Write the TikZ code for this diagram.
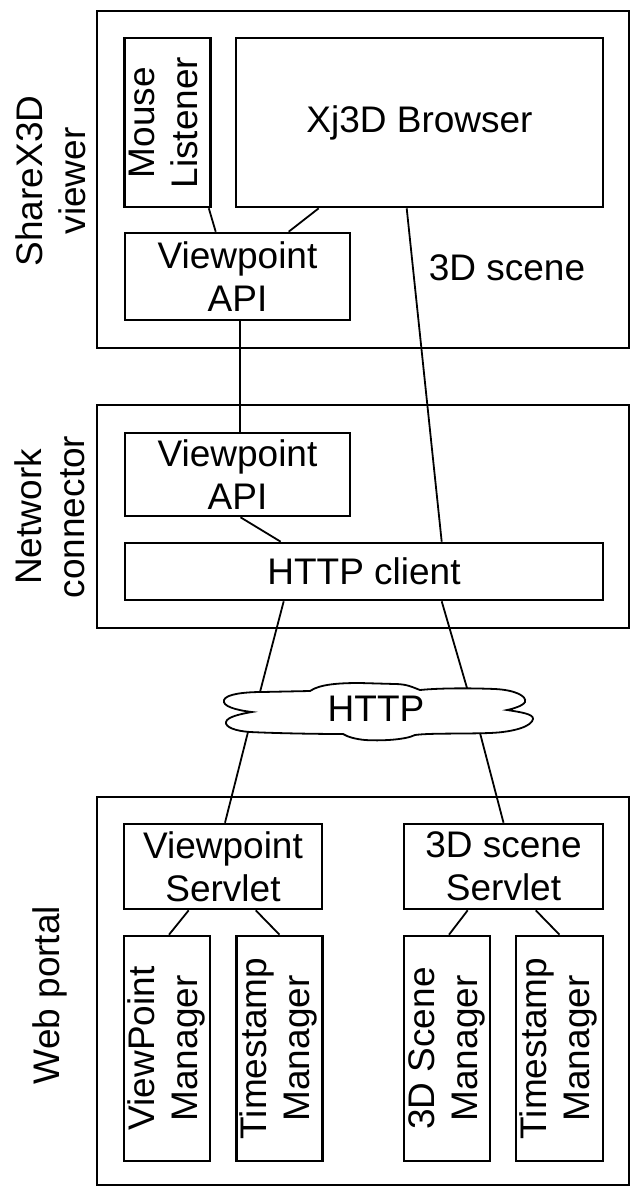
\documentclass[tikz,border=0pt]{standalone}
\usepackage{fontspec}
\setmainfont{Liberation Sans}
\usepackage{tikz}
\usetikzlibrary{shapes,positioning,calc}

\begin{document}
\begin{tikzpicture}[
    x=1pt, y=-1pt,
    every node/.style={font={\fontsize{37}{43}\selectfont}},
    frame/.style={rectangle, draw, line width=2.6pt, inner sep=0pt},
    box/.style={rectangle, draw, line width=2.6pt, inner sep=0pt, align=center},
    vbox/.style={box},
    side/.style={rotate=90, align=center, inner sep=0pt},
    cloudline/.style={draw, line width=1.8pt, fill=white},
    link/.style={line width=1.8pt}
]
\useasboundingbox (0,0) rectangle (631,1188);

% ---------------------------------------------------------------
% ShareX3D viewer
% ---------------------------------------------------------------
\node[frame, minimum width=532pt, minimum height=337pt] (viewer) at (363,179.5) {};
\node[side] (viewerlab) at (51,181) {ShareX3D\\viewer};

\node[vbox, minimum width=85pt, minimum height=169pt] (mouse) at (167.5,122.5) {\rotatebox{90}{\begin{tabular}{@{}c@{}}Mouse\\Listener\end{tabular}}};
\node[box, minimum width=367pt, minimum height=169pt] (xj3d) at (419.5,122.5) {Xj3D Browser};
\node[box, minimum width=225pt, minimum height=87pt] (vapi1) at (237.5,276.5) {Viewpoint\\API};
\node (scene) at (507,268) {3D scene};

% ---------------------------------------------------------------
% Network connector
% ---------------------------------------------------------------
\node[frame, minimum width=532pt, minimum height=223pt] (network) at (363,516.5) {};
\node[side] (networklab) at (50,517) {Network\\connector};

\node[box, minimum width=225pt, minimum height=83pt] (vapi2) at (237.5,474.5) {Viewpoint\\API};
\node[box, minimum width=478pt, minimum height=57pt] (httpc) at (364,571.5) {HTTP client};

% ---------------------------------------------------------------
% HTTP cloud
% ---------------------------------------------------------------
\coordinate (http) at (376,709);
\begin{scope}[shift={(http)}]
\draw[cloudline] (-124,3) .. controls (-141,1) and (-154,-3) .. (-152,-9)
  .. controls (-150,-15) and (-131,-17) .. (-114,-17) -- (-66,-18)
  .. controls (-56,-25) and (-36,-26) .. (-16,-26) -- (19,-25)
  .. controls (32,-25) and (38,-21) .. (44,-19)
  .. controls (64,-21) and (94,-21) .. (119,-20)
  .. controls (139,-19) and (151,-13) .. (149,-7)
  .. controls (147,-3) and (136,0) .. (131,1)
  .. controls (144,3) and (158,5) .. (157,10)
  .. controls (156,17) and (139,23) .. (114,24)
  .. controls (84,25) and (54,24) .. (39,26)
  .. controls (29,31) and (4,32) .. (-11,31)
  .. controls (-21,30) and (-28,28) .. (-33,25)
  .. controls (-66,25) and (-106,24) .. (-126,23)
  .. controls (-141,22) and (-151,18) .. (-150,13)
  .. controls (-149,8) and (-136,5) .. (-124,3) -- cycle;
\coordinate (http-nw) at (-116,-17);
\coordinate (http-ne) at (91,-21);
\coordinate (http-sw) at (-128,23);
\coordinate (http-se) at (104,24);
\end{scope}
\node[inner sep=0pt] (httplab) at (http) {HTTP};

% ---------------------------------------------------------------
% Web portal
% ---------------------------------------------------------------
\node[frame, minimum width=532pt, minimum height=388pt] (portal) at (363,991) {};
\node[side] (portallab) at (50,995) {Web portal};

\node[box, minimum width=198pt, minimum height=85pt] (vps) at (223,866.5) {Viewpoint\\Servlet};
\node[box, minimum width=199pt, minimum height=85pt] (sss) at (503.5,866.5) {3D scene\\Servlet};

\node[vbox, minimum width=86pt, minimum height=225pt] (vpm) at (167,1048.5) {\rotatebox{90}{\begin{tabular}{@{}c@{}}ViewPoint\\Manager\end{tabular}}};
\node[vbox, minimum width=85pt, minimum height=225pt] (tsm1) at (279.5,1048.5) {\rotatebox{90}{\begin{tabular}{@{}c@{}}Timestamp\\Manager\end{tabular}}};
\node[vbox, minimum width=86pt, minimum height=225pt] (ssm) at (447,1048.5) {\rotatebox{90}{\begin{tabular}{@{}c@{}}3D Scene\\Manager\end{tabular}}};
\node[vbox, minimum width=87pt, minimum height=225pt] (tsm2) at (559.5,1048.5) {\rotatebox{90}{\begin{tabular}{@{}c@{}}Timestamp\\Manager\end{tabular}}};

% ---------------------------------------------------------------
% Links
% ---------------------------------------------------------------
\draw[link] ($(mouse.south east)+(-3,0)$) -- ($(vapi1.north west)+(92,0)$);
\draw[link] ($(xj3d.south west)+(84,0)$) -- ($(vapi1.north west)+(165,0)$);
\draw[link] ($(xj3d.south west)+(172,0)$) -- ($(httpc.north west)+(318,0)$);
\draw[link] ($(vapi1.south)+(2.5,0)$) -- ($(vapi2.north)+(2.5,0)$);
\draw[link] ($(vapi2.south)+(3,0)$) -- ($(httpc.north west)+(157,0)$);

\draw[link] ($(httpc.south west)+(160,0)$) -- (http-nw);
\draw[link] ($(httpc.south west)+(318,0)$) -- (http-ne);
\draw[link] (http-sw) -- ($(vps.north)+(2,0)$);
\draw[link] (http-se) -- (sss.north);

\draw[link] ($(vps.south west)+(66,0)$) -- ($(vpm.north)+(2,0)$);
\draw[link] ($(vps.south west)+(133,0)$) -- (tsm1.north);
\draw[link] ($(sss.south west)+(65,0)$) -- ($(ssm.north)+(2,0)$);
\draw[link] ($(sss.south west)+(133,0)$) -- (tsm2.north);

\end{tikzpicture}
\end{document}
